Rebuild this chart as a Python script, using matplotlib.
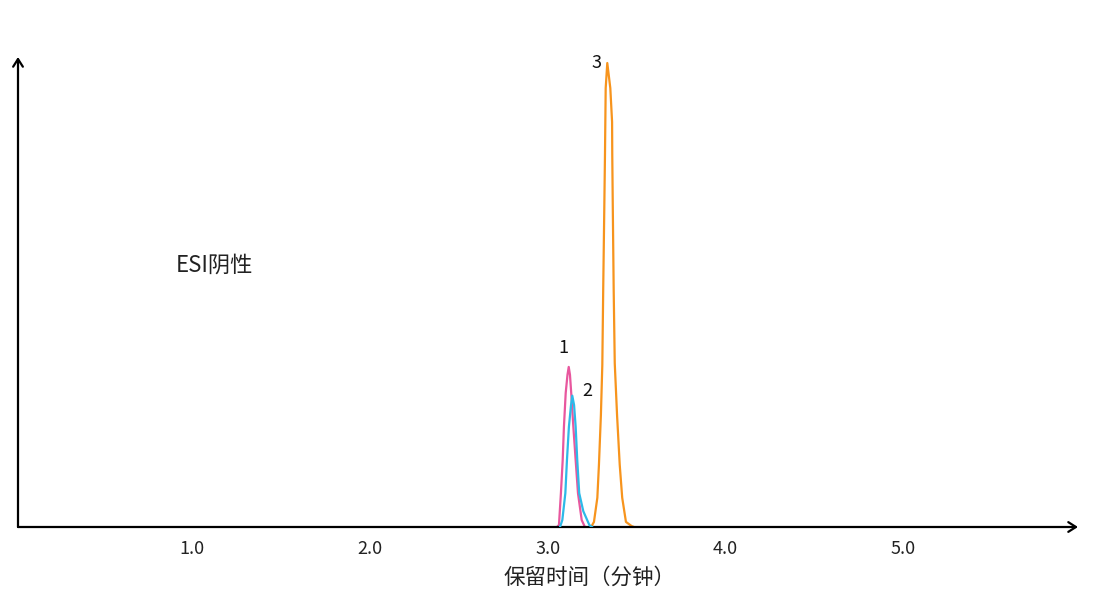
import matplotlib
matplotlib.use("Agg")
import matplotlib.pyplot as plt

plt.rcParams['font.family'] = ['Noto Sans CJK SC', 'DejaVu Sans']

# Peak 1 (pink)
t1 = [3.053, 3.064, 3.075, 3.085, 3.092, 3.102, 3.112, 3.119, 3.126, 3.133, 3.145, 3.158, 3.171, 3.192, 3.210]
y1 = [0.0, 0.43, 7.3, 14.4, 21.6, 28.9, 32.8, 34.5, 32.8, 28.9, 21.6, 14.4, 7.3, 1.5, 0.0]
# Peak 2 (blue)
t2 = [3.070, 3.083, 3.100, 3.109, 3.120, 3.132, 3.139, 3.149, 3.158, 3.167, 3.178, 3.201, 3.235, 3.250]
y2 = [0.0, 1.5, 7.3, 14.4, 21.6, 26.3, 28.3, 26.3, 21.6, 14.4, 7.3, 3.4, 0.43, 0.0]
# Peak 3 (orange)
t3 = [3.233, 3.248, 3.261, 3.280, 3.289, 3.300, 3.308, 3.313, 3.319, 3.323, 3.327, 3.336,
      3.353, 3.363, 3.364, 3.367, 3.372, 3.378, 3.391, 3.406, 3.420, 3.441, 3.473, 3.486]
y3 = [0.0, 0.2, 1.1, 6.3, 13.4, 24.1, 34.9, 51.1, 68.3, 80.2, 94.6, 100.0,
      94.6, 87.3, 80.2, 68.8, 51.1, 35.3, 24.1, 13.4, 6.3, 1.1, 0.2, 0.0]

peak_labels = ['1', '2', '3']
xticks = [1.0, 2.0, 3.0, 4.0, 5.0]
xlabel = '保留时间（分钟）'
mode_text = 'ESI阴性'

colors = ['#E8579E', '#2DB9E8', '#F7941D']

fig = plt.figure(figsize=(11.14, 6.03), dpi=100)
ax = fig.add_axes([18/1114, 1-527/603, (1078-18)/1114, (527-57)/603])
ax.set_xlim(0.0197, 5.985)
ax.set_ylim(0, 101.3)

ax.plot(t1, y1, color=colors[0], lw=1.6, zorder=3)
ax.plot(t3, y3, color=colors[2], lw=1.6, zorder=3)
ax.plot(t2, y2, color=colors[1], lw=1.6, zorder=4)

for s in ax.spines.values():
    s.set_visible(False)

# axes with arrows
arrow = dict(arrowstyle='->,head_length=0.55,head_width=0.35', color='black', lw=1.6,
             shrinkA=0, shrinkB=0)
ax.annotate('', xy=(1, 0), xytext=(0, 0), xycoords='axes fraction', textcoords='axes fraction',
            arrowprops=arrow, annotation_clip=False)
ax.annotate('', xy=(0, 1), xytext=(0, 0), xycoords='axes fraction', textcoords='axes fraction',
            arrowprops=arrow, annotation_clip=False)

ax.set_xticks(xticks)
ax.set_xticklabels([f'{v:.1f}' for v in xticks], fontsize=13, color='#222222')
ax.tick_params(axis='x', length=0, pad=9)
ax.set_yticks([])
ax.set_xlabel(xlabel, fontsize=15.5, color='#222222')
ax.xaxis.set_label_coords((590 - 18) / 1060, -(578 - 527) / 470, transform=ax.transAxes)
ax.xaxis.label.set_va('center')

# peak labels
ax.annotate(peak_labels[0], xy=(t1[y1.index(max(y1))], max(y1)), xytext=(-4, 7),
            textcoords='offset points', fontsize=13, ha='center', va='bottom', color='#111111')
ax.annotate(peak_labels[1], xy=(t2[y2.index(max(y2))], max(y2)), xytext=(11, -3),
            textcoords='offset points', fontsize=13, ha='center', va='bottom', color='#111111')
ax.annotate(peak_labels[2], xy=(t3[y3.index(max(y3))], max(y3)), xytext=(-8, 0),
            textcoords='offset points', fontsize=13, ha='center', va='center', color='#111111')

ax.text(0.905, 56.5, mode_text, fontsize=16, color='#222222', va='center', ha='left')

fig.savefig('out.png', dpi=100)
